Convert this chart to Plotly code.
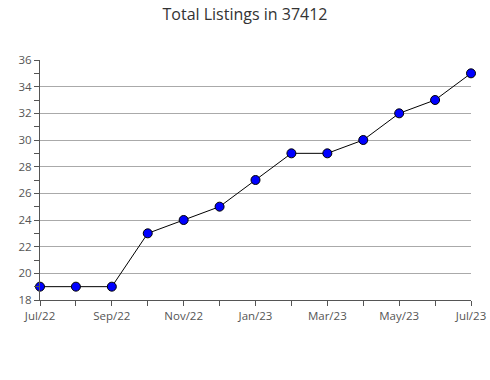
import plotly.graph_objects as go

months = ["Jul/22", "Aug/22", "Sep/22", "Oct/22", "Nov/22", "Dec/22", "Jan/23",
          "Feb/23", "Mar/23", "Apr/23", "May/23", "Jun/23", "Jul/23"]
listings = [19, 19, 19, 23, 24, 25, 27, 29, 29, 30, 32, 33, 35]

xs = list(range(len(months)))
ticktext = [m if i % 2 == 0 else "" for i, m in enumerate(months)]

fig = go.Figure(go.Scatter(
    x=xs, y=listings, mode="lines+markers",
    line=dict(color="black", width=1),
    marker=dict(symbol="circle", size=9, color="#0000ff",
                line=dict(color="black", width=1)),
    cliponaxis=False,
))

font = "Open Sans, Noto Sans, sans-serif"
fig.update_layout(
    width=490, height=380,
    margin=dict(l=40, r=19, t=60, b=80, autoexpand=False),
    paper_bgcolor="white", plot_bgcolor="white",
    showlegend=False,
    title=dict(text="Total Listings in 37412", x=0.5, xanchor="center",
               y=0.963, yanchor="middle",
               font=dict(family=font, size=16, color="#333333")),
    font=dict(family=font, size=11.5, color="#555555"),
)
fig.update_xaxes(
    range=[0, 12], tickvals=xs, ticktext=ticktext,
    ticks="outside", ticklen=5, tickcolor="#555555",
    showline=True, linecolor="#555555", linewidth=1,
    showgrid=False, zeroline=False, automargin=False,
)
fig.update_yaxes(
    range=[18, 36], dtick=2, tick0=18,
    ticks="outside", ticklen=5, tickcolor="#555555",
    minor=dict(dtick=1, ticks="outside", ticklen=5, tickcolor="#555555", showgrid=False),
    showline=True, linecolor="#555555", linewidth=1,
    showgrid=True, gridcolor="#aaaaaa", gridwidth=1,
    zeroline=False, automargin=False,
)
fig.write_html("out.html",
               config={"displayModeBar": False, "staticPlot": True},
               post_script="document.body.style.margin='0';document.body.style.overflow='hidden';")
